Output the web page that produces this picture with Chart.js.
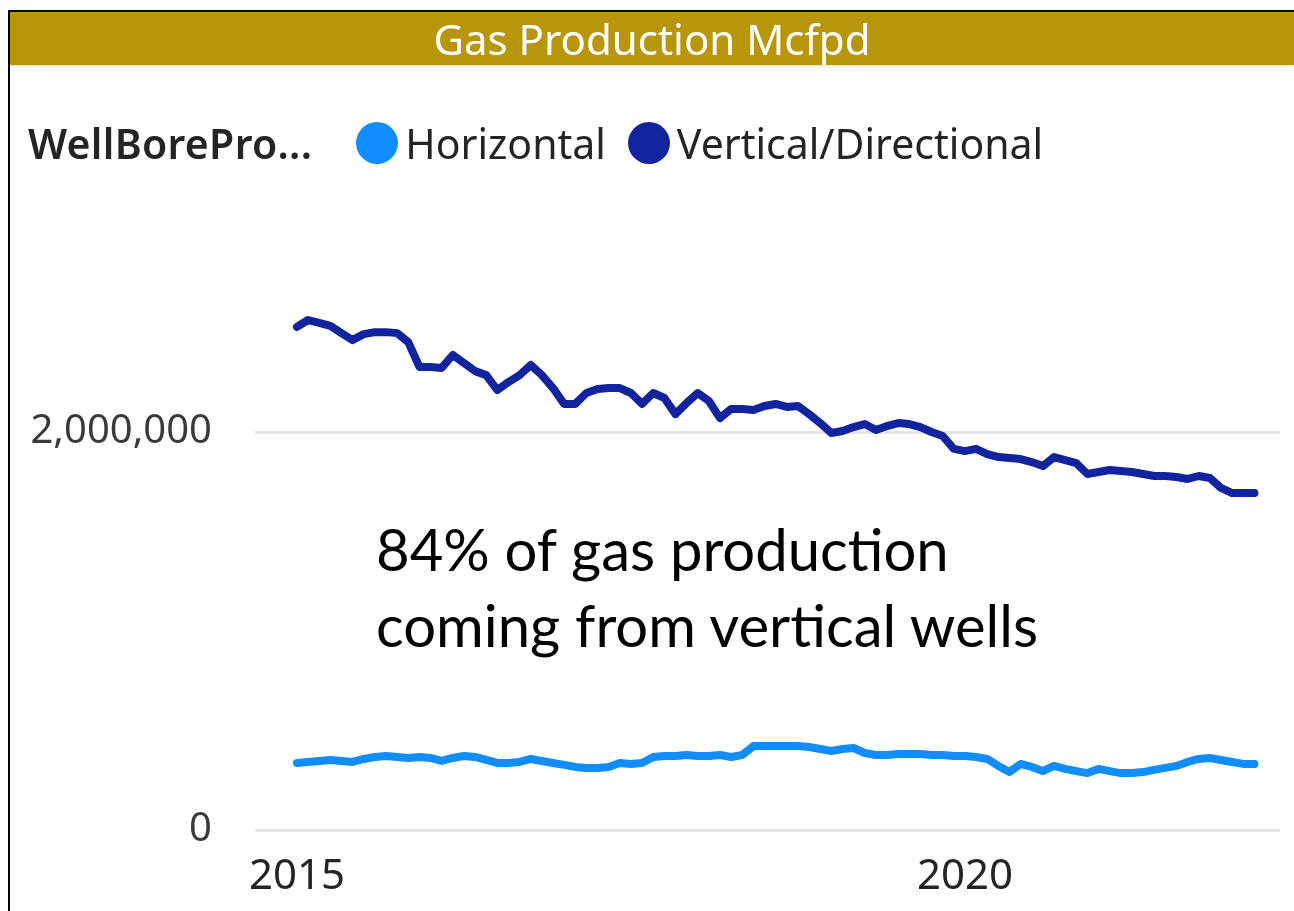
<!DOCTYPE html>
<html>
<head>
<meta charset="utf-8">
<script src="https://cdn.jsdelivr.net/npm/chart.js@4.4.1/dist/chart.umd.min.js"></script>
<style>
  html, body { margin: 0; padding: 0; background: #fff; }
  #page { position: relative; width: 1294px; height: 911px; overflow: hidden; font-family: "Noto Sans", sans-serif; }
  #frame { position: absolute; left: 8px; top: 10px; right: -4px; bottom: -4px; border-left: 2px solid #000; border-top: 2px solid #000; }
  #titleBar { position: absolute; left: 10px; top: 12px; right: 0; height: 53px; background: #B8960C;
    color: #fff; font-size: 42px; line-height: 53px; text-align: center; box-shadow: 0 1px 2px rgba(0,0,0,0.15); }
  #legend { position: absolute; left: 28px; top: 116px; height: 54px; display: flex; align-items: center;
    font-size: 41px; color: #252423; white-space: nowrap; }
  #legend .ttl { font-weight: 600; margin-right: 44px; letter-spacing: 0.3px; }
  #legend .item { display: flex; align-items: center; margin-right: 22px; }
  #legend .dot { width: 42px; height: 42px; border-radius: 50%; margin-right: 7px; }
  #note { position: absolute; left: 376px; top: 511px; font-family: Lato, sans-serif; font-size: 58px;
    line-height: 76px; color: #000; }
  #wrap { position: absolute; left: 0; top: 0; width: 1294px; height: 911px; }
</style>
</head>
<body>
<div id="page">
  <div id="wrap"><canvas id="gasChart" width="1294" height="911"></canvas></div>
  <div id="frame"></div>
  <div id="titleBar">Gas Production Mcfpd</div>
  <div id="legend"></div>
  <div id="note">84% of gas production<br>coming from vertical wells</div>
</div>
<script>
// meses desde ene 2015 hasta mar 2022
const startYear = 2015;
const monthCount = 87;
const months = [];
for (let i = 0; i < monthCount; i++) {
  const y = startYear + Math.floor(i / 12);
  const m = (i % 12) + 1;
  months.push(y + "-" + String(m).padStart(2, "0"));
}

const seriesNames = ["Horizontal", "Vertical/Directional"];
const legendTitle = "WellBorePro...";

// Mcfpd (miles)
const horizontal = [
  337, 342, 347, 352, 347, 342, 357, 367, 372, 367, 362, 367,
  362, 347, 362, 372, 367, 352, 337, 337, 342, 357, 347, 337,
  327, 317, 312, 312, 317, 337, 332, 337, 367, 372, 372, 377,
  372, 372, 377, 367, 377, 422, 422, 422, 422, 422, 417, 407,
  397, 407, 412, 387, 377, 377, 382, 382, 382, 377, 377, 372,
  372, 367, 357, 322, 291, 332, 317, 296, 322, 307, 296, 286,
  307, 296, 286, 286, 291, 302, 312, 322, 342, 357, 362, 352,
  342, 332, 332
].map(v => v * 1000);

const vertical = [
  2528, 2563, 2548, 2533, 2497, 2462, 2492, 2502, 2502, 2497, 2452, 2327,
  2327, 2322, 2387, 2347, 2306, 2286, 2211, 2251, 2286, 2337, 2286, 2221,
  2141, 2141, 2196, 2216, 2221, 2221, 2196, 2141, 2196, 2171, 2090, 2146,
  2196, 2156, 2070, 2116, 2116, 2111, 2131, 2141, 2126, 2131, 2090, 2045,
  1995, 2005, 2025, 2040, 2010, 2030, 2045, 2040, 2025, 2000, 1980, 1915,
  1904, 1915, 1889, 1874, 1869, 1864, 1849, 1829, 1874, 1859, 1844, 1789,
  1799, 1809, 1804, 1799, 1789, 1779, 1779, 1774, 1764, 1779, 1769, 1719,
  1693, 1693, 1693
].map(v => v * 1000);

const yTicks = [0, 2000000];
const xTicks = [2015, 2020];
const colors = ["#118DFF", "#12239E"];

// mes -> año decimal
const toYear = s => {
  const [y, m] = s.split("-").map(Number);
  return y + (m - 1) / 12;
};

const datasets = [horizontal, vertical].map((vals, k) => ({
  label: seriesNames[k],
  data: vals.map((v, i) => ({ x: toYear(months[i]), y: v })),
  borderColor: colors[k],
  backgroundColor: colors[k],
  borderWidth: 8,
  borderJoinStyle: "round",
  borderCapStyle: "round",
  pointRadius: 0,
  tension: 0
}));

// leyenda html
const legend = document.getElementById("legend");
legend.innerHTML = `<span class="ttl">${legendTitle}</span>` + datasets.map(d =>
  `<span class="item"><span class="dot" style="background:${d.borderColor}"></span>${d.label}</span>`
).join("");

const ctx = document.getElementById("gasChart").getContext("2d");
new Chart(ctx, {
  type: "line",
  data: { datasets },
  options: {
    responsive: false,
    animation: false,
    layout: { padding: { top: 200, right: 14, left: 0, bottom: 0 } },
    plugins: { legend: { display: false }, tooltip: { enabled: false } },
    scales: {
      x: {
        type: "linear",
        min: 2014.686,
        max: 2022.358,
        afterBuildTicks: axis => { axis.ticks = xTicks.map(v => ({ value: v })); },
        afterFit: scale => { scale.height = 81; },
        grid: { display: false, drawTicks: false },
        border: { display: false },
        ticks: {
          color: "#252423",
          font: { family: "Noto Sans", size: 42 },
          padding: 22,
          maxRotation: 0,
          callback: v => String(v)
        }
      },
      y: {
        min: 0,
        max: 3166000,
        afterBuildTicks: axis => { axis.ticks = yTicks.map(v => ({ value: v })); },
        afterFit: scale => { scale.width = 255; },
        grid: { color: "#E6E6E6", lineWidth: 3, drawTicks: false },
        border: { display: false },
        ticks: {
          color: "#3a3a3a",
          font: { family: "Noto Sans", size: 40 },
          padding: 43,
          callback: v => new Intl.NumberFormat("en-US").format(v)
        }
      }
    }
  }
});
</script>
</body>
</html>
